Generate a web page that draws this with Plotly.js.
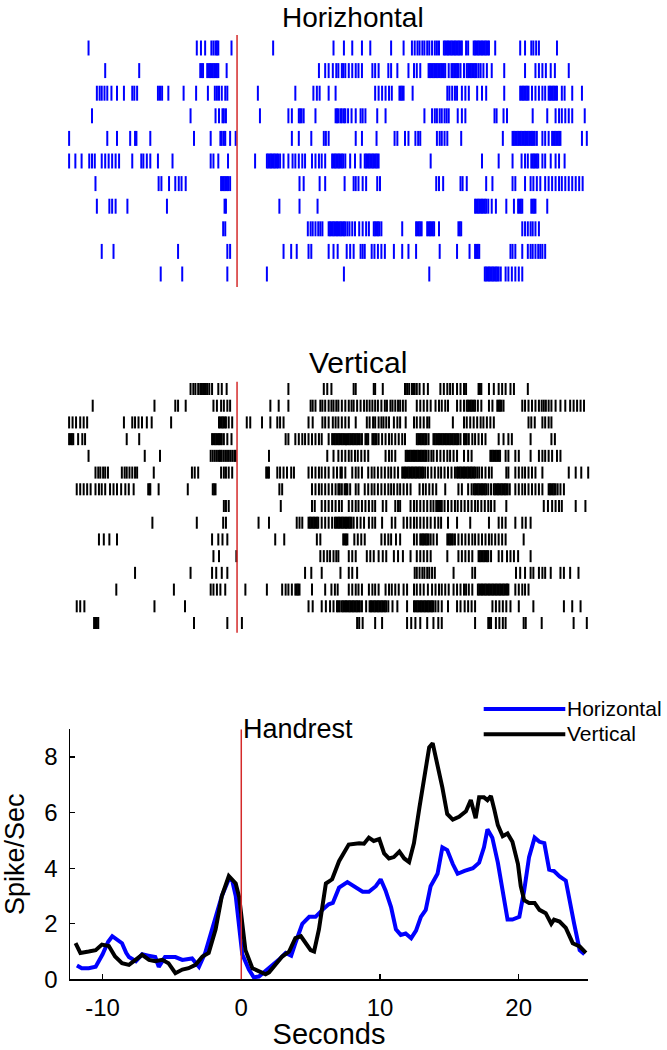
<!DOCTYPE html>
<html><head><meta charset="utf-8">
<script src="https://cdn.plot.ly/plotly-3.0.1.min.js"></script>
<style>html,body{margin:0;padding:0;background:#fff}</style>
</head><body><div id="chart" style="width:667px;height:1050px"></div>
<script>
// ---------- Raster data: spike times (s) per trial, Horizontal condition ----------
const hRow1 = [-10.7,-2.9,-2.6,-2.3,-1.85,-1.7,-1.55,-1.45,-1.35,-0.4,2.6,6.95,7.7,8.3,9.0,9.6,11.1,12.0,12.6,12.8,13.0,13.15,13.35,13.5,13.7,13.85,14.05,14.25,14.4,14.55,14.9,15.0,15.1,15.2,15.3,15.4,15.5,15.6,15.7,15.8,15.9,16.0,16.1,16.2,16.5,16.65,17.05,17.15,17.25,17.35,17.45,17.55,17.65,17.75,17.85,17.95,18.05,18.15,18.6,20.4,20.75,21.2,21.35,21.55,21.75,23.05];
const hRow2 = [-9.5,-7.05,-2.65,-2.55,-2.45,-2.15,-2.05,-1.95,-1.85,-1.75,-1.65,-1.55,-1.45,-1.35,-0.75,5.9,6.35,6.6,6.9,7.15,7.3,7.55,7.65,7.8,8.05,8.3,8.55,8.75,9.0,9.75,9.95,10.2,10.9,11.1,11.55,12.35,12.75,12.95,13.2,13.8,13.9,14.0,14.1,14.2,14.3,14.4,14.5,14.6,14.7,14.8,14.9,15.0,15.25,15.45,15.55,15.65,15.75,15.85,15.95,16.1,16.35,16.55,16.65,16.75,16.85,16.95,17.05,17.15,17.25,17.4,17.55,17.75,18.0,18.35,19.25,20.75,21.5,21.75,22.0,22.25,22.6,22.9,23.9];
const hRow3 = [-10.1,-9.9,-9.75,-9.55,-9.35,-9.05,-8.65,-8.15,-7.55,-7.4,-7.2,-5.7,-5.55,-5.4,-4.95,-3.85,-2.95,-2.1,-1.6,-1.45,-1.3,-1.1,-0.85,-0.7,1.5,4.2,5.5,5.75,5.95,6.6,7.1,9.95,10.2,10.45,10.7,10.95,11.15,11.7,11.8,11.9,12.0,12.65,15.15,15.3,15.5,15.7,15.85,16.2,16.45,16.7,17.3,17.65,17.95,19.25,20.4,20.5,20.6,20.7,20.8,20.9,21.0,21.25,21.5,21.75,22.0,22.2,22.45,22.55,22.65,22.75,22.85,22.95,23.05,23.4,23.6,24.15,24.85];
const hRow4 = [-10.45,-3.35,-1.55,-1.3,-1.05,-0.95,-0.8,1.65,3.7,3.95,4.45,4.55,4.65,4.8,5.65,7.1,7.2,7.3,7.45,7.55,7.7,7.8,8.0,8.25,8.55,8.9,9.05,9.25,10.1,10.7,13.5,14.05,14.25,14.4,14.6,14.75,14.95,15.1,15.25,15.9,16.2,16.45,18.55,18.7,19.2,19.45,21.3,22.35,22.95,23.2,23.4,23.65,23.9,24.15,25.05];
const hRow5 = [-12.1,-9.35,-8.65,-7.7,-7.35,-7.25,-6.25,-3.1,-1.9,-1.2,-1.1,-0.95,-0.85,-0.5,-0.1,3.95,4.45,5.35,6.25,6.4,6.6,8.55,9.0,10.05,11.35,11.55,12.1,12.35,12.85,13.05,13.2,14.4,14.6,14.75,14.95,15.15,16.15,19.15,19.85,19.95,20.05,20.15,20.25,20.35,20.45,20.55,20.65,20.75,20.85,20.95,21.05,21.15,21.25,21.35,21.45,21.6,22.0,22.2,22.45,22.7,22.8,22.9,23.0,23.1,23.2,23.3,24.85,25.2];
const hRow6 = [-12.1,-11.65,-11.2,-10.65,-10.45,-10.25,-9.75,-9.5,-9.25,-9.0,-8.75,-8.5,-7.55,-6.9,-6.75,-6.5,-6.25,-5.7,-4.65,-1.9,-1.7,-1.35,-0.65,1.3,2.15,2.25,2.35,2.45,2.55,2.65,2.75,2.85,2.95,3.1,3.35,3.7,4.0,4.2,4.45,4.7,4.9,5.4,5.65,5.9,6.1,6.35,6.85,6.95,7.05,7.15,7.25,7.35,7.45,7.55,7.65,7.8,8.15,8.5,8.9,9.2,9.3,9.4,9.5,9.6,9.7,9.8,9.9,10.0,10.1,10.2,13.95,17.65,18.85,19.85,20.5,20.75,20.95,21.2,21.3,21.4,21.5,21.6,21.7,22.0,22.2,22.6,22.95,23.2,23.6];
const hRow7 = [-10.2,-5.65,-5.45,-4.9,-4.45,-4.2,-4.0,-3.7,-1.15,-1.05,-0.95,-0.85,-0.75,-0.65,-0.5,4.5,4.8,5.95,6.35,7.75,8.4,8.55,8.75,9.05,9.3,10.1,10.3,14.35,14.55,14.85,16.1,16.25,16.55,17.95,18.4,19.85,20.05,20.75,21.15,21.35,21.6,21.85,22.2,22.45,22.7,22.95,23.2,23.4,23.65,23.9,24.15,24.4,24.65,24.9];
const hRow8 = [-10.1,-9.2,-9.0,-8.75,-7.9,-5.05,-0.9,-0.8,3.05,4.5,5.8,17.15,17.25,17.35,17.45,17.55,17.65,17.75,17.85,17.95,18.1,18.35,18.65,19.4,19.95,20.25,20.35,20.45,20.55,21.2,21.3,21.4,21.5,22.35];
const hRow9 = [-1.0,-0.85,5.1,5.3,5.45,5.65,5.85,6.0,6.15,6.6,6.7,6.8,6.9,7.0,7.1,7.2,7.3,7.4,7.5,7.6,7.7,7.8,7.95,8.1,8.3,8.5,8.8,9.05,9.3,9.5,9.85,9.95,10.05,10.15,10.25,10.4,11.9,12.9,13.0,13.1,13.2,13.3,13.7,13.8,13.9,14.0,14.1,14.2,14.55,15.95,16.05,16.15,20.55,20.75,20.95,21.15,21.3,21.5,21.75];
const hRow10 = [-9.75,-8.9,-4.25,-0.7,-0.5,3.35,3.9,4.3,5.15,5.35,6.6,6.95,7.25,7.9,8.15,8.4,8.9,9.05,9.2,9.7,9.9,10.15,10.4,10.65,11.3,11.9,12.35,12.9,14.6,15.85,16.75,17.15,17.25,17.35,17.45,19.7,19.85,20.05,20.55,20.95,21.15,21.3,21.5,21.7,21.85,22.0,22.2];
const hRow11 = [-5.5,-3.95,-0.7,2.15,7.7,13.85,17.85,17.95,18.05,18.15,18.25,18.35,18.45,18.55,18.65,18.75,18.85,19.0,19.35,19.55,19.8,20.05,20.3,20.55];

// ---------- Raster data: spike times (s) per trial, Vertical condition ----------
const vRow1 = [-3.35,-3.15,-3.0,-2.8,-2.65,-2.55,-2.45,-2.35,-2.25,-2.15,-2.0,-1.8,-1.35,-1.1,-0.75,3.7,6.25,6.5,6.8,8.4,8.55,9.85,9.95,10.5,12.1,12.25,12.4,12.6,12.7,12.8,12.95,13.15,13.45,13.75,14.65,14.9,15.15,15.35,15.55,15.85,16.1,16.35,16.5,17.4,17.5,17.6,18.15,18.5,18.85,19.1,19.35,19.7,19.95,20.95];
const vRow2 = [-10.4,-5.95,-4.45,-4.25,-3.7,-1.7,-1.45,-1.15,-0.95,-0.7,-0.5,2.4,3.0,3.7,5.3,5.45,5.65,6.0,6.15,6.35,6.6,6.8,6.95,7.15,7.3,7.55,7.8,8.05,8.25,8.4,8.65,8.9,9.15,9.35,9.55,9.75,9.95,10.15,10.4,10.65,10.8,11.05,11.2,11.4,11.6,11.75,11.95,12.15,12.95,13.2,13.45,13.7,13.95,14.3,14.55,14.75,15.0,15.2,15.85,16.1,16.35,16.55,16.65,16.75,16.85,16.95,17.05,17.15,17.35,17.6,18.15,18.4,18.75,18.85,18.95,19.05,19.2,20.55,20.75,21.0,21.25,21.5,21.75,21.95,22.1,22.25,22.45,22.65,22.95,23.3,23.65,24.0,24.25,24.5,24.75,25.0];
const vRow3 = [-12.1,-11.85,-11.6,-11.3,-11.05,-10.8,-8.15,-7.55,-7.35,-7.1,-6.85,-6.5,-6.15,-4.75,-1.3,-1.2,-1.1,-1.0,-0.9,-0.8,-0.6,-0.35,0.7,0.95,1.8,2.4,2.9,3.1,3.35,5.15,5.45,6.15,6.35,6.6,6.9,7.1,7.3,7.55,7.8,8.05,8.55,9.35,9.55,9.8,9.95,10.2,10.4,10.55,10.75,10.95,11.3,11.55,11.75,12.15,12.75,12.95,13.2,13.45,13.7,13.85,15.55,16.35,16.55,16.8,17.05,17.3,17.55,17.75,18.0,18.25,18.5,21.0,21.2,21.45,22.0,22.2,22.45,22.65];
const vRow4 = [-12.1,-12.0,-11.9,-11.8,-11.45,-11.15,-10.95,-7.95,-7.05,-1.8,-1.7,-1.6,-1.5,-1.4,-1.3,-1.2,-1.1,-0.95,-0.7,-0.4,3.5,3.7,4.2,4.45,4.7,4.9,5.15,5.4,5.65,5.9,6.1,6.6,6.85,6.95,7.05,7.15,7.25,7.35,7.45,7.55,7.65,7.75,7.85,7.95,8.05,8.15,8.25,8.35,8.45,8.55,8.65,8.75,8.85,9.0,9.25,9.35,9.45,9.75,9.85,9.95,10.05,10.2,10.45,10.7,10.95,11.15,11.4,11.65,11.9,12.1,12.95,13.05,13.15,13.25,13.35,13.45,13.55,13.65,13.8,14.15,14.25,14.35,14.45,14.55,14.65,14.75,14.85,14.95,15.05,15.15,15.25,15.35,15.45,15.55,15.65,15.75,15.85,15.95,16.1,16.35,16.45,16.55,16.7,16.95,17.15,17.4,17.65,17.9,18.85,19.2,19.55,19.8,21.15,22.65,22.9];
const vRow5 = [-10.7,-6.65,-5.55,-1.9,-1.75,-1.6,-1.45,-1.3,-1.2,-1.1,-0.95,-0.8,-0.65,-0.5,-0.35,-0.2,-0.1,2.3,6.5,6.95,7.3,7.55,7.8,8.05,8.25,8.5,8.7,8.95,9.2,9.45,10.7,10.95,11.15,11.4,12.15,12.25,12.35,12.45,12.55,12.65,12.75,12.85,12.95,13.05,13.15,13.25,13.35,13.45,13.55,13.65,13.8,14.0,14.15,14.4,14.65,14.9,15.15,15.35,15.6,15.85,16.35,16.65,16.9,18.25,18.35,18.45,18.55,18.65,18.75,18.85,18.95,19.35,19.55,20.05,20.3,21.15,21.75,22.0,22.2,22.45,22.7,23.05,23.3];
const vRow6 = [-10.2,-10.0,-9.85,-9.65,-9.5,-9.3,-8.3,-8.1,-7.95,-7.75,-7.55,-7.35,-7.2,-6.0,-3.25,-3.05,-2.8,-1.15,-0.95,-0.8,-0.6,-0.35,2.1,2.2,2.3,2.9,3.1,3.35,3.6,3.9,4.1,5.15,5.4,5.65,5.9,6.1,6.35,6.6,6.95,7.2,7.45,7.55,7.8,8.3,8.55,8.75,9.0,9.45,9.7,9.9,10.15,10.4,10.65,10.9,11.1,11.35,11.6,11.9,12.0,12.1,12.2,12.3,12.4,12.5,12.6,12.7,12.8,12.9,13.0,13.1,13.2,13.3,13.4,13.55,13.75,14.0,14.25,14.5,14.7,14.95,15.2,15.45,15.7,15.85,15.95,16.05,16.15,16.25,16.35,16.45,16.55,16.65,16.75,16.85,16.95,17.05,17.15,17.3,17.45,17.65,17.9,18.15,18.35,19.4,19.55,20.05,20.3,20.55,20.75,21.0,21.25,21.5,22.0,23.9,24.4,24.8,25.3];
const vRow7 = [-11.55,-11.3,-11.05,-10.8,-10.55,-10.2,-9.95,-9.75,-9.5,-9.15,-8.9,-8.65,-8.35,-8.05,-7.8,-7.45,-6.4,-6.3,-6.25,-5.65,-3.55,-1.75,-1.65,-1.55,3.05,3.25,5.4,5.65,5.9,6.1,6.35,6.6,6.85,7.1,7.3,7.4,7.55,7.75,7.85,7.95,8.15,8.55,8.75,9.2,9.45,9.7,9.9,10.15,10.4,10.65,10.9,11.1,11.3,11.55,11.75,12.0,12.25,12.5,13.15,13.4,13.6,13.85,14.1,14.35,15.0,15.95,16.2,16.65,16.9,17.05,17.15,17.25,17.35,17.45,17.55,17.65,17.75,17.85,17.95,18.1,18.3,18.5,18.6,18.7,18.8,18.9,19.0,19.1,19.2,19.3,19.4,19.5,19.65,20.05,20.3,20.55,20.75,21.0,21.25,21.5,21.75,22.0,22.45,22.55,22.65,22.75,22.85,22.95,23.1,23.3,23.55];
const vRow8 = [-0.95,-0.8,-0.6,3.15,5.4,5.6,6.1,6.35,6.6,6.85,7.1,7.35,7.55,8.05,8.3,8.55,8.75,9.0,9.25,9.5,9.75,9.95,10.5,10.75,11.4,11.6,11.75,12.5,12.75,12.95,13.2,13.45,13.7,13.95,14.15,14.35,14.45,14.55,14.65,14.75,14.95,15.2,15.45,15.7,15.9,16.15,16.4,16.65,16.9,17.15,17.35,17.6,17.85,18.1,18.3,18.55,19.4,22.1,22.4,22.7,22.95,23.2,23.4,24.4,25.1];
const vRow9 = [-6.1,-2.9,-1.0,-0.8,1.55,2.3,4.3,4.5,4.7,5.15,5.25,5.35,5.45,5.55,5.65,5.75,5.85,6.1,6.35,6.6,6.85,7.05,7.15,7.25,7.35,7.45,7.55,7.65,7.75,7.85,7.95,8.05,8.15,8.25,8.4,8.65,8.9,9.15,9.5,9.75,9.95,10.45,11.15,11.4,12.0,12.25,12.5,12.75,12.95,13.2,13.45,13.7,13.95,14.25,14.5,14.7,15.2,15.85,16.8,18.15,18.85,19.1,19.35,20.05,20.55,20.8,21.15];
const vRow10 = [-9.95,-9.6,-9.2,-8.65,-1.8,-1.35,-1.05,-0.7,2.75,3.4,5.75,6.0,7.65,7.75,7.85,7.95,8.45,8.7,8.95,9.2,10.4,10.65,10.9,11.1,11.45,11.75,12.75,12.95,13.2,13.3,13.4,13.5,13.6,13.7,13.8,13.95,14.15,14.4,15.15,15.25,15.35,15.45,15.55,15.7,15.95,16.2,16.45,16.7,16.95,17.15,17.4,17.65,17.9,18.15,18.35,18.6,18.85,19.1,19.35,20.65];
const vRow11 = [-1.7,-1.3,-0.05,6.0,6.25,6.5,6.7,6.95,7.15,7.3,8.05,8.3,8.55,9.35,9.6,9.85,10.2,10.5,10.75,11.3,11.6,11.95,12.5,12.95,13.2,13.45,13.7,13.95,15.15,15.95,16.2,16.45,16.7,16.95,17.4,17.5,17.6,17.7,17.8,17.9,18.0,18.1,18.3,18.85,19.1,19.45,19.7,19.95,20.25,21.15];
const vRow12 = [-7.35,-3.35,-1.8,-1.5,-1.1,-0.7,4.9,5.35,6.1,7.45,8.05,8.3,8.65,12.8,12.95,13.15,13.35,13.5,13.7,13.85,14.05,14.25,15.6,16.95,17.15,20.1,20.4,20.75,21.15,21.35,21.75,22.0,22.2,22.6,23.3,23.55,24.0,24.6];
const vRow13 = [-8.7,-4.55,-1.9,-1.7,-1.45,-1.2,-0.85,0.6,2.15,3.25,3.5,3.7,3.95,4.2,4.3,4.4,4.5,5.4,6.35,6.8,7.05,7.25,8.05,8.3,8.55,8.75,9.0,9.5,9.75,9.95,10.2,10.7,10.95,11.15,11.4,11.65,12.0,12.25,12.75,12.95,13.2,13.45,13.75,14.05,14.3,14.55,14.75,15.0,15.25,15.6,15.85,16.1,16.35,16.5,16.7,16.95,17.35,17.45,17.55,17.65,17.75,17.85,17.95,18.05,18.15,18.25,18.35,18.45,18.55,18.65,18.75,18.85,18.95,19.05,19.15,19.25,19.35,19.45,19.55,20.05,20.3,20.55,20.75,21.0];
const vRow14 = [-11.55,-11.3,-11.0,-5.95,-3.75,5.15,5.45,6.1,6.4,6.7,6.95,7.2,7.3,7.4,7.55,7.65,7.75,7.85,7.95,8.05,8.15,8.25,8.35,8.45,8.55,8.65,8.75,8.85,9.0,9.3,9.55,9.65,9.75,9.85,9.95,10.05,10.15,10.25,10.35,10.45,10.55,10.65,10.75,10.9,11.2,11.55,12.25,12.75,12.85,12.95,13.05,13.15,13.25,13.35,13.45,13.55,13.65,13.75,13.85,13.95,14.05,14.15,14.3,14.5,14.75,15.2,15.85,16.1,16.4,16.65,16.9,17.15,18.4,18.65,18.9,19.15,19.4,19.7,20.3,21.35,23.55,24.15,24.75];
const vRow15 = [-10.3,-10.2,-10.1,-10.0,-3.1,-0.7,0.35,8.65,8.8,9.05,9.95,10.45,12.25,12.55,12.85,13.2,13.7,14.15,14.5,14.75,17.15,18.1,18.2,18.3,18.65,18.9,19.15,19.35,20.65,20.8,21.95,24.25,25.2];

// ---------- Firing-rate curves ----------
const timeH = [-11.85,-11.5,-11.0,-10.5,-10.0,-9.6,-9.3,-9.0,-8.6,-8.3,-8.1,-7.6,-7.15,-6.7,-6.2,-5.95,-5.5,-4.75,-4.25,-3.55,-3.05,-2.6,-2.0,-1.4,-0.9,-0.65,-0.4,-0.17,0.07,0.55,0.9,1.27,1.75,2.25,2.7,3.2,3.6,3.9,4.4,4.9,5.35,5.85,6.3,6.6,7.05,7.65,8.25,8.75,9.2,9.7,10.05,10.4,10.8,11.15,11.5,11.85,12.25,12.6,12.95,13.3,13.65,14.15,14.5,14.85,15.25,15.6,16.1,16.7,17.15,17.5,17.75,18.1,18.5,18.85,19.2,19.55,20.05,20.4,20.75,21.15,21.5,21.85,22.2,22.55,22.95,23.4,23.65,24.0,24.4,24.75];
const rateH = [0.5,0.4,0.4,0.45,0.9,1.35,1.55,1.45,1.3,0.95,0.8,0.65,0.9,0.85,0.8,0.45,0.8,0.8,0.7,0.75,0.45,0.95,2.0,3.0,3.6,3.55,3.0,1.8,0.9,0.35,0.07,0.1,0.3,0.5,0.7,0.95,0.85,1.3,2.0,2.25,2.25,2.5,2.7,2.75,3.3,3.5,3.3,3.15,3.15,3.35,3.6,3.2,2.6,1.8,1.6,1.65,1.48,1.75,2.25,2.5,3.35,3.8,4.75,4.65,4.15,3.8,3.9,4.0,4.2,4.75,5.4,5.1,4.2,3.2,2.15,2.15,2.25,3.2,4.4,5.1,4.95,4.9,3.95,3.9,3.7,3.55,2.85,2.0,1.05,0.9];
const timeV = [-11.95,-11.6,-11.0,-10.5,-10.05,-9.55,-9.1,-8.6,-8.1,-7.65,-7.15,-6.65,-6.2,-5.7,-5.25,-4.75,-4.25,-3.8,-3.3,-2.8,-2.35,-1.85,-1.4,-0.9,-0.4,-0.15,0.0,0.3,0.8,1.25,1.75,2.0,2.5,2.95,3.45,3.9,4.3,4.65,5.0,5.25,5.6,6.1,6.55,7.05,7.75,8.5,8.85,9.2,9.55,9.95,10.3,10.65,11.0,11.4,11.75,12.1,12.45,12.85,13.2,13.55,13.8,14.15,14.5,14.85,15.25,15.7,16.2,16.55,16.9,17.15,17.5,17.75,18.0,18.25,18.5,18.85,19.2,19.55,19.95,20.15,20.4,20.75,21.15,21.5,21.95,22.35,22.55,22.95,23.4,23.9,24.4,24.85];
const rateV = [1.3,0.95,1.0,1.05,1.25,1.2,0.82,0.58,0.52,0.7,0.88,0.7,0.65,0.7,0.58,0.22,0.35,0.4,0.52,0.82,0.95,1.8,3.0,3.72,3.45,2.95,2.25,1.05,0.4,0.28,0.18,0.25,0.58,0.82,1.0,1.48,1.55,1.3,1.05,1.0,1.8,3.45,3.6,4.25,4.85,4.9,4.88,5.1,4.98,5.05,4.53,4.35,4.4,4.6,4.35,4.22,4.9,6.2,7.3,8.35,8.5,7.75,6.9,5.95,5.75,5.85,6.05,6.45,5.8,6.55,6.55,6.45,6.6,6.1,5.55,5.15,5.25,4.95,4.15,3.35,2.85,2.75,2.75,2.5,2.38,2.0,2.15,2.08,1.85,1.3,1.18,0.95];

// ---------- Labels / ticks ----------
const seriesNames = ['Horizontal', 'Vertical'];
const seriesColors = ['#0000ff', '#000000'];
const panelTitles = ['Horizhontal', 'Vertical'];
const eventLabel = 'Handrest';
const xTickVals = [-10, 0, 10, 20];
const xTickText = ['-10', '0', '10', '20'];
const yTickVals = [0, 2, 4, 6, 8];
const yTickText = ['0', '2', '4', '6', '8'];
const xTitle = 'Seconds';
const yTitle = 'Spike/Sec';

const hRows = [hRow1,hRow2,hRow3,hRow4,hRow5,hRow6,hRow7,hRow8,hRow9,hRow10,hRow11];
const vRows = [vRow1,vRow2,vRow3,vRow4,vRow5,vRow6,vRow7,vRow8,vRow9,vRow10,vRow11,vRow12,vRow13,vRow14,vRow15];

function rasterTrace(rows, color, size, xa, ya) {
  const xs = [], ys = [];
  rows.forEach((r, i) => r.forEach(t => { xs.push(t); ys.push(i + 1); }));
  return {
    type: 'scatter', mode: 'markers', x: xs, y: ys, xaxis: xa, yaxis: ya,
    marker: { symbol: 'line-ns', size: size, color: color, line: { color: color, width: 2 } },
    showlegend: false, hoverinfo: 'skip', cliponaxis: false
  };
}

const FONT = 'Liberation Sans, Arial, Helvetica, sans-serif';
const RED = '#d42a2a';
const W = 667, H = 1050;
const DX = 2; // horizontal nudge in px

const data = [
  rasterTrace(hRows, seriesColors[0], 10.7, 'x', 'y'),
  rasterTrace(vRows, seriesColors[1], 8.6, 'x2', 'y2'),
  { type: 'scatter', mode: 'lines', x: timeH, y: rateH, xaxis: 'x3', yaxis: 'y3', name: seriesNames[0],
    line: { color: seriesColors[0], width: 4 }, showlegend: false },
  { type: 'scatter', mode: 'lines', x: timeV, y: rateV, xaxis: 'x3', yaxis: 'y3', name: seriesNames[1],
    line: { color: seriesColors[1], width: 4 }, showlegend: false }
];

const rx = [(66 + DX) / W, (588 + DX) / W];
const legendRows = [709, 734.3];
const layout = {
  width: W, height: H,
  margin: { l: 0, r: 0, t: 0, b: 0 },
  paper_bgcolor: '#fff', plot_bgcolor: '#fff',
  font: { family: FONT, color: '#000' },
  showlegend: false,
  xaxis: { domain: rx, range: [-12.18, 25.43], visible: false, anchor: 'y', fixedrange: true },
  yaxis: { domain: [1 - 287 / H, 1 - 35 / H], range: [11.575, 0.425], visible: false, anchor: 'x', fixedrange: true },
  xaxis2: { domain: rx, range: [-12.18, 25.43], visible: false, anchor: 'y2', fixedrange: true },
  yaxis2: { domain: [1 - 632.7 / H, 1 - 381.7 / H], range: [15.58, 0.563], visible: false, anchor: 'x2', fixedrange: true },
  xaxis3: { domain: [(68 + DX) / W, (586 + DX) / W], range: [-12.35, 25.0], anchor: 'y3',
            showline: true, linecolor: '#000', linewidth: 1.5, mirror: false,
            ticks: 'inside', ticklen: 5, tickwidth: 1.2, tickcolor: '#000',
            tickvals: xTickVals, ticktext: xTickText, tickfont: { size: 24 }, ticklabelstandoff: 6,
            showgrid: false, zeroline: false,
            title: { text: xTitle, font: { size: 29 }, standoff: 10 } },
  yaxis3: { domain: [1 - 979.3 / H, 1 - 729.3 / H], range: [0, 9], anchor: 'x3',
            showline: true, linecolor: '#000', linewidth: 1.5, mirror: false,
            ticks: 'inside', ticklen: 5, tickwidth: 1.2, tickcolor: '#000',
            tickvals: yTickVals, ticktext: yTickText, tickfont: { size: 24 }, ticklabelstandoff: 6,
            showgrid: false, zeroline: false,
            title: { text: yTitle, font: { size: 27 }, standoff: 12 } },
  shapes: [
    { type: 'line', xref: 'x', yref: 'y domain', x0: 0, x1: 0, y0: 0, y1: 1, line: { color: RED, width: 1.5 } },
    { type: 'line', xref: 'x2', yref: 'y2 domain', x0: 0, x1: 0, y0: 0, y1: 1, line: { color: RED, width: 1.5 } },
    { type: 'line', xref: 'x3', yref: 'y3', x0: 0, x1: 0, y0: 0, y1: 9, line: { color: RED, width: 1.5 } },
    // legend samples
    { type: 'line', xref: 'paper', yref: 'paper', x0: (481.7 + DX) / W, x1: (563.3 + DX) / W,
      y0: 1 - legendRows[0] / H, y1: 1 - legendRows[0] / H, line: { color: seriesColors[0], width: 4 } },
    { type: 'line', xref: 'paper', yref: 'paper', x0: (481.7 + DX) / W, x1: (563.3 + DX) / W,
      y0: 1 - legendRows[1] / H, y1: 1 - legendRows[1] / H, line: { color: seriesColors[1], width: 4 } }
  ],
  annotations: [
    { xref: 'paper', yref: 'paper', x: (351 + DX) / W, y: 1, text: panelTitles[0], showarrow: false,
      xanchor: 'center', yanchor: 'top', font: { size: 28 } },
    { xref: 'paper', yref: 'paper', x: (356 + DX) / W, y: 1 - 362.5 / H, text: panelTitles[1], showarrow: false,
      xanchor: 'center', yanchor: 'middle', font: { size: 30 } },
    { xref: 'x3', yref: 'y3', x: 0, y: 9, text: eventLabel, showarrow: false,
      xanchor: 'left', yanchor: 'middle', font: { size: 27 } },
    { xref: 'paper', yref: 'paper', x: (563.5 + DX) / W, y: 1 - (legendRows[0] - 1) / H, text: seriesNames[0], showarrow: false,
      xanchor: 'left', yanchor: 'middle', font: { size: 21 }, borderpad: 0 },
    { xref: 'paper', yref: 'paper', x: (563.5 + DX) / W, y: 1 - (legendRows[1] - 1) / H, text: seriesNames[1], showarrow: false,
      xanchor: 'left', yanchor: 'middle', font: { size: 21 }, borderpad: 0 }
  ]
};

Plotly.newPlot('chart', data, layout, { staticPlot: true, displayModeBar: false });
</script></body></html>
